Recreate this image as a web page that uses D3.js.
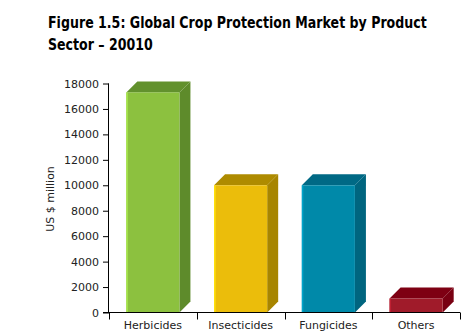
<!DOCTYPE html>
<html>
<head>
<meta charset="utf-8">
<script src="https://cdn.jsdelivr.net/npm/d3@7"></script>
<style>
  html, body { margin: 0; padding: 0; background: #fff; }
  svg { display: block; }
</style>
</head>
<body>
<svg id="chart" width="476" height="336"></svg>
<script>
// Crop protection market by product sector (US $ million)
const categories = ["Herbicides", "Insecticides", "Fungicides", "Others"];
const values = [17300, 10000, 10000, 1100];
const frontColors = ["#8cc13f", "#ebbd0b", "#0089a9", "#a01b2a"];
const shadeColors = ["#5e8b2b", "#a78500", "#00657f", "#790012"];
const yTicks = [0, 2000, 4000, 6000, 8000, 10000, 12000, 14000, 16000, 18000];
const titleLines = ["Figure 1.5: Global Crop Protection Market by Product", "Sector \u2013 20010"];
const yLabel = "US $ million";

const svg = d3.select("#chart");
const margin = { left: 109 };
const baseY = 312.5;

const x = d3.scaleBand().domain(categories).range([margin.left, 460]).paddingInner(0).paddingOuter(0);
const y = d3.scaleLinear().domain([0, 18000]).range([baseY, 83.5]);

// Title: condensed bold, squeezed horizontally so the first line spans 379px
const titleG = svg.append("g");
const title = titleG.append("g")
  .attr("font-family", "'Liberation Sans Narrow', 'DejaVu Sans Condensed', 'DejaVu Sans', sans-serif")
  .attr("font-weight", "bold")
  .attr("font-size", 16.5)
  .attr("fill", "#000");
const t1 = title.append("text").attr("x", 0).attr("y", 28.5).text(titleLines[0]);
title.append("text").attr("x", 0).attr("y", 50.5).text(titleLines[1]);
const natural = t1.node().getComputedTextLength();
const sx = Math.min(1, 379 / natural);
title.attr("transform", `translate(48,0) scale(${sx},1)`);

// 3D bars: front face, side face and top face
const depth = 11;
const faceW = x.bandwidth() * 0.605;
const bars = svg.append("g");
categories.forEach((c, i) => {
  const cx = x(c) + x.bandwidth() / 2;
  const x0 = cx - faceW / 2, x1 = cx + faceW / 2;
  const yt = y(values[i]);
  const g = bars.append("g");
  // side
  g.append("path")
    .attr("d", `M${x1},${baseY}L${x1 + depth},${baseY - depth}L${x1 + depth},${yt - depth}L${x1},${yt}Z`)
    .attr("fill", shadeColors[i]);
  // top
  g.append("path")
    .attr("d", `M${x0},${yt}L${x0 + depth},${yt - depth}L${x1 + depth},${yt - depth}L${x1},${yt}Z`)
    .attr("fill", d3.color(shadeColors[i]).brighter(0.12));
  // front
  g.append("rect")
    .attr("x", x0).attr("y", yt)
    .attr("width", faceW).attr("height", baseY - yt)
    .attr("fill", frontColors[i]);
  // soft highlight on the left edge of the front face
  g.append("rect")
    .attr("x", x0).attr("y", yt)
    .attr("width", 1.5).attr("height", baseY - yt)
    .attr("fill", d3.color(frontColors[i]).brighter(0.5));
});

// Y axis
const yAxis = d3.axisLeft(y).tickValues(yTicks).tickSize(6).tickPadding(4).tickFormat(d3.format("d"));
const yg = svg.append("g").attr("transform", `translate(${margin.left},0)`).call(yAxis);
yg.select(".domain").attr("d", `M-0.5,${y(18000)}V${baseY}`).attr("stroke", "#000");
yg.selectAll(".tick line").attr("stroke", "#000").attr("x2", -6);
yg.selectAll(".tick text")
  .attr("font-family", "'DejaVu Sans', Verdana, sans-serif")
  .attr("font-size", 11).attr("fill", "#222");

// X axis
const xg = svg.append("g").attr("transform", `translate(0,${baseY})`);
xg.append("line").attr("x1", margin.left - 6).attr("x2", 460).attr("y1", 0).attr("y2", 0).attr("stroke", "#000");
const edges = [...categories.map(c => x(c)), x.range()[1]];
xg.selectAll("line.sep").data(edges).join("line").attr("class", "sep")
  .attr("x1", d => Math.round(d) + 0.5).attr("x2", d => Math.round(d) + 0.5)
  .attr("y1", 0).attr("y2", 7).attr("stroke", "#000");
xg.selectAll("text").data(categories).join("text")
  .attr("x", d => x(d) + x.bandwidth() / 2).attr("y", 16)
  .attr("text-anchor", "middle")
  .attr("font-family", "'DejaVu Sans', Verdana, sans-serif")
  .attr("font-size", 11).attr("fill", "#222")
  .text(d => d);

// Y axis title
svg.append("text")
  .attr("transform", "translate(54,199) rotate(-90)")
  .attr("text-anchor", "middle")
  .attr("font-family", "'DejaVu Sans', Verdana, sans-serif")
  .attr("font-size", 11).attr("fill", "#222")
  .text(yLabel);
</script>
</body>
</html>
